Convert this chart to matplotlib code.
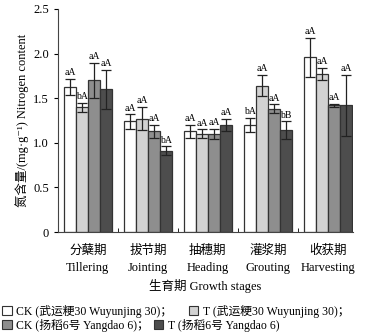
import numpy as np
import matplotlib.pyplot as plt
from matplotlib.patches import Patch

plt.rcParams['font.family'] = ['Liberation Serif', 'Noto Sans CJK SC', 'DejaVu Serif']
plt.rcParams['axes.unicode_minus'] = False

stages_cn = ['分蘖期', '拔节期', '抽穗期', '灌浆期', '收获期']
stages_en = ['Tillering', 'Jointing', 'Heading', 'Grouting', 'Harvesting']
series = ['CK (武运粳30 Wuyunjing 30)；', 'T (武运粳30 Wuyunjing 30)；',
          'CK (扬稻6号 Yangdao 6)；', 'T (扬稻6号 Yangdao 6)']
colors = ['#ffffff', '#d2d2d2', '#8e8e8e', '#4d4d4d']

ck_w = [1.63, 1.24, 1.13, 1.20, 1.96]
t_w = [1.40, 1.27, 1.10, 1.64, 1.77]
ck_y = [1.70, 1.13, 1.10, 1.38, 1.42]
t_y = [1.60, 0.91, 1.20, 1.14, 1.42]
err_ck_w = [0.09, 0.08, 0.07, 0.08, 0.22]
err_t_w = [0.05, 0.13, 0.05, 0.12, 0.07]
err_ck_y = [0.20, 0.07, 0.06, 0.05, 0.02]
err_t_y = [0.22, 0.05, 0.07, 0.10, 0.34]
sig_ck_w = ['aA', 'aA', 'aA', 'bA', 'aA']
sig_t_w = ['bA', 'aA', 'aA', 'aA', 'aA']
sig_ck_y = ['aA', 'aA', 'aA', 'aA', 'aA']
sig_t_y = ['aA', 'bA', 'aA', 'bB', 'aA']

vals = [ck_w, t_w, ck_y, t_y]
errs = [err_ck_w, err_t_w, err_ck_y, err_t_y]
sigs = [sig_ck_w, sig_t_w, sig_ck_y, sig_t_y]

fig = plt.figure(figsize=(3.66, 3.33), dpi=100)
ax = fig.add_axes([0.158, 0.303, 0.807, 0.67])

x = np.arange(len(stages_en))
w = 0.2
for i in range(4):
    pos = x + (i - 1.5) * w
    ax.bar(pos, vals[i], w, color=colors[i], edgecolor='#333333', linewidth=0.9,
           yerr=errs[i], capsize=3.5, error_kw=dict(elinewidth=0.9, capthick=0.9, ecolor='#222222'))
    for p, v, e, s in zip(pos, vals[i], errs[i], sigs[i]):
        ax.text(p, v + e + 0.02, s, ha='center', va='bottom', fontsize=7)

ax.set_xlim(-0.5, 4.42)
ax.set_ylim(0, 2.5)
ax.set_yticks([0, 0.5, 1.0, 1.5, 2.0, 2.5])
ax.set_yticklabels(['0', '0.5', '1.0', '1.5', '2.0', '2.5'], fontsize=9)
ax.set_xticks(x)
ax.set_xticklabels([c + '\n' + e for c, e in zip(stages_cn, stages_en)], fontsize=9, linespacing=1.55)
ax.tick_params(axis='x', length=0, pad=9)
ax.set_xticks(x[:-1] + 0.5, minor=True)
ax.tick_params(axis='x', which='minor', length=3, direction='in')
ax.tick_params(axis='y', length=3, direction='out', labelsize=9)
for s in ['top', 'right']:
    ax.spines[s].set_visible(False)
ax.spines['left'].set_color('#444444')
ax.spines['bottom'].set_color('#444444')

ax.set_ylabel('氮含量/(mg·g⁻¹) Nitrogen content', fontsize=9, labelpad=3)
ax.set_xlabel('生育期 Growth stages', fontsize=9, labelpad=4)

h = [Patch(facecolor=c, edgecolor='#333333', linewidth=0.8) for c in colors]
fig.legend(h[:2], series[:2], loc='center left', bbox_to_anchor=(0.006, 0.066), ncol=2,
           frameon=False, fontsize=8.5, handlelength=0.8, handleheight=0.8,
           handletextpad=0.4, columnspacing=1.4, borderaxespad=0, borderpad=0)
fig.legend(h[2:], series[2:], loc='center left', bbox_to_anchor=(0.006, 0.024), ncol=2,
           frameon=False, fontsize=8.5, handlelength=0.8, handleheight=0.8,
           handletextpad=0.4, columnspacing=0.4, borderaxespad=0, borderpad=0)

fig.savefig('out.png', dpi=100)
